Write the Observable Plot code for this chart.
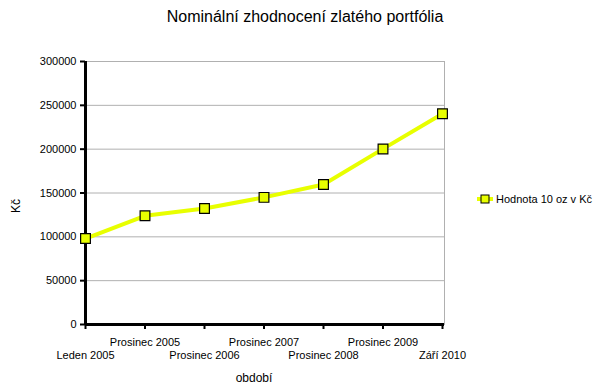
<!DOCTYPE html>
<html>
<head>
<meta charset="utf-8">
<script src="https://cdn.jsdelivr.net/npm/d3@7"></script>
<script src="https://cdn.jsdelivr.net/npm/@observablehq/plot@0.6"></script>
<style>
  body { margin: 0; background: #fff; font-family: "Liberation Sans", Arial, sans-serif; }
  #wrap { position: relative; width: 601px; height: 392px; overflow: hidden; }
  #title { position: absolute; left: 0; top: 8px; width: 610px; text-align: center; font-size: 16px; color: #000; }
  #legend { position: absolute; left: 477px; top: 193px; font-size: 11px; color: #000; display: flex; align-items: center; }
  #legend svg { margin-right: 3px; }
  svg { display: block; }
</style>
</head>
<body>
<div id="wrap">
  <div id="chart"></div>
  <div id="title">Nominální zhodnocení zlatého portfólia</div>
  <div id="legend"><svg width="16" height="12"><line x1="0" y1="6" x2="16" y2="6" stroke="#e8ff00" stroke-width="4"/><rect x="4" y="2" width="8" height="8" fill="#e8ff00" stroke="#000" stroke-width="1"/></svg><span>Hodnota 10 oz v Kč</span></div>
</div>
<script>
const categories = ["Leden 2005", "Prosinec 2005", "Prosinec 2006", "Prosinec 2007", "Prosinec 2008", "Prosinec 2009", "Září 2010"];
const values = [98000, 124000, 132300, 145000, 159700, 200300, 240500];
const yTicks = [0, 50000, 100000, 150000, 200000, 250000, 300000];
const seriesName = "Hodnota 10 oz v Kč";

const data = categories.map((c, i) => ({cat: c, value: values[i], row: i % 2}));

const chart = Plot.plot({
  width: 601,
  height: 392,
  marginLeft: 85,
  marginRight: 157,
  marginTop: 61,
  marginBottom: 68,
  style: {fontFamily: "'Liberation Sans', Arial, sans-serif", fontSize: "11px", color: "#000", background: "#fff"},
  x: {type: "point", domain: categories, padding: 0, round: false, range: [85, 442]},
  y: {domain: [0, 300000]},
  marks: [
    Plot.ruleY(yTicks, {stroke: "#b0b0b0", strokeWidth: 1}),
    Plot.frame({anchor: "right", stroke: "#b0b0b0", strokeWidth: 1}),
    Plot.axisY(yTicks, {tickSize: 5, tickPadding: 4, strokeWidth: 2, tickFormat: d => String(d), label: null, fontSize: 11}),
    Plot.axisX(categories, {tickSize: 5, strokeWidth: 2, tickFormat: () => "", label: null}),
    Plot.text(data.filter(d => d.row === 1), {x: "cat", text: "cat", frameAnchor: "bottom", dy: 21, fontSize: 11}),
    Plot.text(data.filter(d => d.row === 0), {x: "cat", text: "cat", frameAnchor: "bottom", dy: 34, fontSize: 11}),
    Plot.ruleX([categories[0]], {stroke: "#000", strokeWidth: 3}),
    Plot.ruleY([0], {stroke: "#000", strokeWidth: 3}),
    Plot.text(["Kč"], {frameAnchor: "left", dx: -69, dy: 20, rotate: -90, fontSize: 12}),
    Plot.text(["období"], {frameAnchor: "bottom", dx: -11, dy: 57, fontSize: 12}),
    Plot.line(data, {x: "cat", y: "value", stroke: "#e8ff00", strokeWidth: 4}),
    Plot.dot(data, {x: "cat", y: "value", symbol: "square", r: 5.5, fill: "#e8ff00", stroke: "#000", strokeWidth: 1.2})
  ]
});
document.getElementById("chart").appendChild(chart);
</script>
</body>
</html>
